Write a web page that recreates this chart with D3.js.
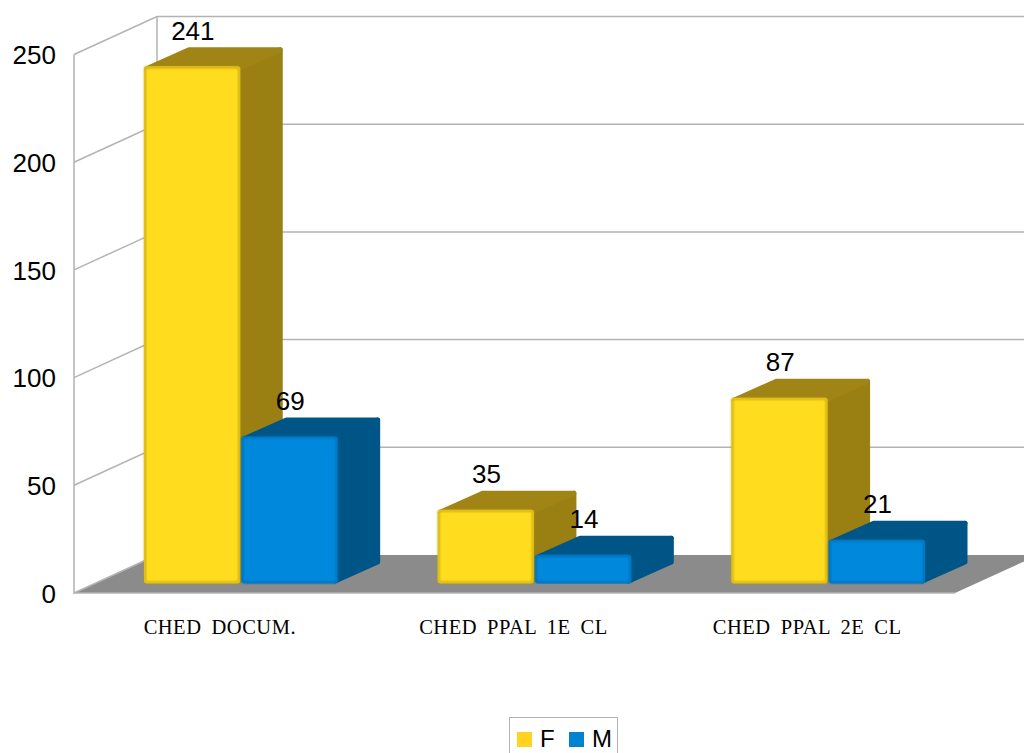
<!DOCTYPE html>
<html>
<head>
<meta charset="utf-8">
<script src="https://cdn.jsdelivr.net/npm/d3@7/dist/d3.min.js"></script>
<style>
  html, body { margin: 0; padding: 0; background: #fff; overflow: hidden; }
  svg { display: block; }
  text { font-family: "Liberation Sans", Arial, sans-serif; fill: #000; }
  .cat { font-family: "Liberation Serif", "Times New Roman", serif; }
</style>
</head>
<body>
<svg id="chart" width="1024" height="753"></svg>
<script>
// Data
const categories = ["CHED DOCUM.", "CHED PPAL 1E CL", "CHED PPAL 2E CL"];
const seriesNames = ["F", "M"];
const valuesF = [241, 35, 87];
const valuesM = [69, 14, 21];
const yTicks = [0, 50, 100, 150, 200, 250];

// Series colours: front face, bevel edge, side face, top face
const palette = {
  F: { front: "#ffdd1e", edge: "#bd9d12", side: "#9a7f12", top: "#a08516", key: "#ffd320" },
  M: { front: "#0089dc", edge: "#0068aa", side: "#005587", top: "#005587", key: "#0084d1" }
};

// Layout of the 3D box
const width = 1024, height = 753;
const wallDx = 83, wallDy = 38;   // offset of the back wall from the front plane
const barDx = 42.5, barDy = 19;   // depth of a single bar
const plotLeft = 74, plotRight = 955;

const svg = d3.select("#chart");

// Scales
const yFront = d3.scaleLinear().domain([0, 250]).range([593, 54.5]);
const yBar = d3.scaleLinear().domain([0, 250]).range([585, 47]);
const barFoot = 583.5;
const xCat = d3.scaleBand().domain(categories).range([plotLeft + 22, plotRight + 22])
  .paddingInner(0).paddingOuter(0);
const xSeries = d3.scaleBand().domain(seriesNames)
  .range([48, xCat.bandwidth() - 52]).paddingInner(0.012);

const defs = svg.append("defs");
defs.append("filter").attr("id", "soft")
  .attr("x", "-5%").attr("y", "-5%").attr("width", "110%").attr("height", "110%")
  .append("feGaussianBlur").attr("stdDeviation", 0.8);

const gridColor = "#b3b3b3";
const gridWidth = 1.5;

// Floor
svg.append("polygon")
  .attr("points", [
    [plotLeft, yFront(0)],
    [plotLeft + wallDx, yFront(0) - wallDy],
    [plotRight + wallDx, yFront(0) - wallDy],
    [plotRight, yFront(0)]
  ].join(" "))
  .attr("fill", "#8b8b8b");
svg.append("line")
  .attr("x1", plotLeft).attr("x2", plotRight)
  .attr("y1", yFront(0)).attr("y2", yFront(0))
  .attr("stroke", gridColor).attr("stroke-width", gridWidth);

// Gridlines across the left and back walls
const grid = svg.append("g").attr("fill", "none")
  .attr("stroke", gridColor).attr("stroke-width", gridWidth);
grid.selectAll("path.grid").data(yTicks.slice(1)).join("path")
  .attr("class", "grid")
  .attr("d", d => {
    const p = d3.path();
    p.moveTo(plotLeft, yFront(d));
    p.lineTo(plotLeft + wallDx, yFront(d) - wallDy);
    p.lineTo(width, yFront(d) - wallDy);
    return p.toString();
  });
grid.append("path")
  .attr("d", `M${plotLeft},${yFront(250)}V${yFront(0)}L${plotLeft + wallDx},${yFront(0) - wallDy}`);
grid.append("path")
  .attr("d", `M${plotLeft + wallDx},${yFront(250) - wallDy}V${yFront(0) - wallDy}`);

// Value axis
const axis = svg.append("g")
  .attr("transform", `translate(${plotLeft - 18},1)`)
  .call(d3.axisLeft(yFront).tickValues(yTicks).tickSize(0).tickPadding(0));
axis.select(".domain").remove();
axis.selectAll("text")
  .style("font-family", '"Liberation Sans", Arial, sans-serif')
  .style("font-size", "26px")
  .style("fill", "#000");

// Bars
const rows = categories.flatMap((c, i) => [
  { cat: c, series: "F", value: valuesF[i] },
  { cat: c, series: "M", value: valuesM[i] }
]);

const bar = svg.append("g").selectAll("g").data(rows).join("g")
  .each(function (d) {
    const g = d3.select(this);
    const c = palette[d.series];
    const x0 = xCat(d.cat) + xSeries(d.series);
    const x1 = x0 + xSeries.bandwidth();
    const yT = yBar(d.value), yB = barFoot;
    const r = 2.5;   // half of the rounding stroke on side and top faces

    g.append("polygon")
      .attr("points", [[x1 - r, yT + r], [x1 + barDx - r, yT - barDy + r], [x1 + barDx - r, yB - barDy - r], [x1 - r, yB - r]].join(" "))
      .attr("fill", c.side).attr("stroke", c.side)
      .attr("stroke-width", r * 2).attr("stroke-linejoin", "round");
    g.append("polygon")
      .attr("points", [[x0 + r, yT + r], [x0 + barDx + r, yT - barDy + r], [x1 + barDx - r, yT - barDy + r], [x1 - r, yT + r]].join(" "))
      .attr("fill", c.top).attr("stroke", c.top)
      .attr("stroke-width", r * 2).attr("stroke-linejoin", "round");
    g.append("rect")
      .attr("x", x0).attr("y", yT)
      .attr("width", x1 - x0).attr("height", yB - yT)
      .attr("rx", 3).attr("fill", c.front);
    g.append("rect")
      .attr("x", x0 + 1).attr("y", yT + 1)
      .attr("width", x1 - x0 - 2).attr("height", yB - yT - 2)
      .attr("rx", 2).attr("fill", "none")
      .attr("stroke", c.edge).attr("stroke-width", 1.6)
      .attr("filter", "url(#soft)");
  });

// Value labels
svg.append("g").selectAll("text").data(rows).join("text")
  .attr("x", d => xCat(d.cat) + xSeries(d.series) + xSeries.bandwidth() / 2 + 0.7)
  .attr("y", d => yBar(d.value) - 26.5)
  .attr("text-anchor", "middle")
  .style("font-size", "26px")
  .text(d => d.value);

// Category labels
svg.append("g").selectAll("text").data(categories).join("text")
  .attr("class", "cat")
  .attr("x", d => xCat(d) + xCat.bandwidth() / 2 - 23)
  .attr("y", 634)
  .attr("text-anchor", "middle")
  .style("font-size", "20.5px")
  .style("letter-spacing", "0.5px")
  .style("word-spacing", "4.5px")
  .text(d => d);

// Legend
const legend = svg.append("g");
legend.append("rect")
  .attr("x", 509.5).attr("y", 717.5).attr("width", 108).attr("height", 50)
  .attr("fill", "#fff").attr("stroke", gridColor).attr("stroke-width", 1);
const keyX = { F: 517, M: 569 };
const item = legend.selectAll("g").data(seriesNames).join("g")
  .attr("transform", d => `translate(${keyX[d]},732)`);
item.append("rect").attr("width", 15).attr("height", 15)
  .attr("fill", d => palette[d].key);
item.append("text").attr("x", 23).attr("y", 15)
  .style("font-size", "24px")
  .text(d => d);
</script>
</body>
</html>
